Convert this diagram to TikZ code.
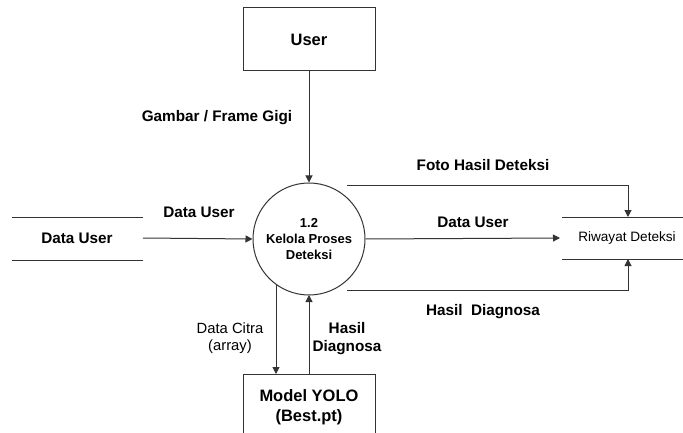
\documentclass[tikz,border=0pt]{standalone}
\usepackage{fontspec}
\setmainfont{Liberation Sans}
\usetikzlibrary{arrows.meta}
\begin{document}
\begin{tikzpicture}[x=1pt,y=-1pt,
  line/.style={draw=black!80,line width=1pt},
  arr/.style={line,-{Triangle[width=7pt,length=7pt]}},
  lbl/.style={font=\fontsize{15.3}{18}\selectfont\bfseries,align=center,inner sep=0pt},
  lblr/.style={font=\fontsize{14.8}{17.5}\selectfont,align=center,inner sep=0pt},
  ent/.style={line,rectangle,fill=white,minimum width=132pt,font=\fontsize{16.5}{20}\selectfont\bfseries,align=center}]
\useasboundingbox (0,0) rectangle (683,433);
\clip (0,0) rectangle (683,433);
\fill[white] (0,0) rectangle (683,433);
% entities
\node[ent,minimum height=63pt] (user) at (309,39.5) {User};
\node[ent,minimum height=75pt,text depth=0pt] (yolo) at (309,411.5) {};
\node[font=\fontsize{16.5}{19.5}\selectfont\bfseries,align=center] (yolotxt) at (309,407) {Model YOLO\\(Best.pt)};
% process
\node[line,circle,minimum size=112pt,inner sep=0pt,align=center,font=\fontsize{13}{16}\selectfont\bfseries] (proc) at (309,239) {1.2\\Kelola Proses\\Deteksi};
% data stores
\node[lbl] (dsuser) at (77,238) {Data User};
\draw[line] (12,217) -- (143,217);
\draw[line] (12,260) -- (143,260);
\coordinate (dsuserE) at (143,238);
\node[lblr,font=\fontsize{13.6}{16}\selectfont] (riwayat) at (627,238) {Riwayat Deteksi};
\draw[line] (562,217) -- (683,217);
\draw[line] (562,259) -- (683,259);
\coordinate (riwT) at (628,217);
\coordinate (riwB) at (628,259);
\coordinate (riwW) at (560,238);
% flows
\draw[arr] (user.south) -- (proc.north);
\node[lbl] (lgambar) at (217,118) {Gambar / Frame Gigi};
\draw[arr] (dsuserE) -- (proc.west);
\node[lbl] (ldu1) at (199,212) {Data User};
\draw[arr] (proc.east) -- (riwW);
\node[lbl] (ldu2) at (473,222) {Data User};
\coordinate (tl) at (347,186);
\coordinate (bl) at (347,290);
\draw[arr] (tl) -- (tl -| riwT) -- (riwT);
\draw[arr] (bl) -- (bl -| riwB) -- (riwB);
\node[lbl] (lfoto) at (483,165) {Foto Hasil Deteksi};
\node[lbl] (lhd) at (483,312) {Hasil\ \ Diagnosa};
\coordinate (dcTop) at (276,284);
\coordinate (dcBot) at (276,374);
\coordinate (hdTop) at (309,295);
\coordinate (hdBot) at (309,374);
\draw[arr] (dcTop) -- (dcBot);
\draw[arr] (hdBot) -- (hdTop);
\node[lblr] (ldc) at (230,338) {Data Citra\\(array)};
\node[lbl] (lhd2) at (347,339) {Hasil\\Diagnosa};
\end{tikzpicture}
\end{document}
